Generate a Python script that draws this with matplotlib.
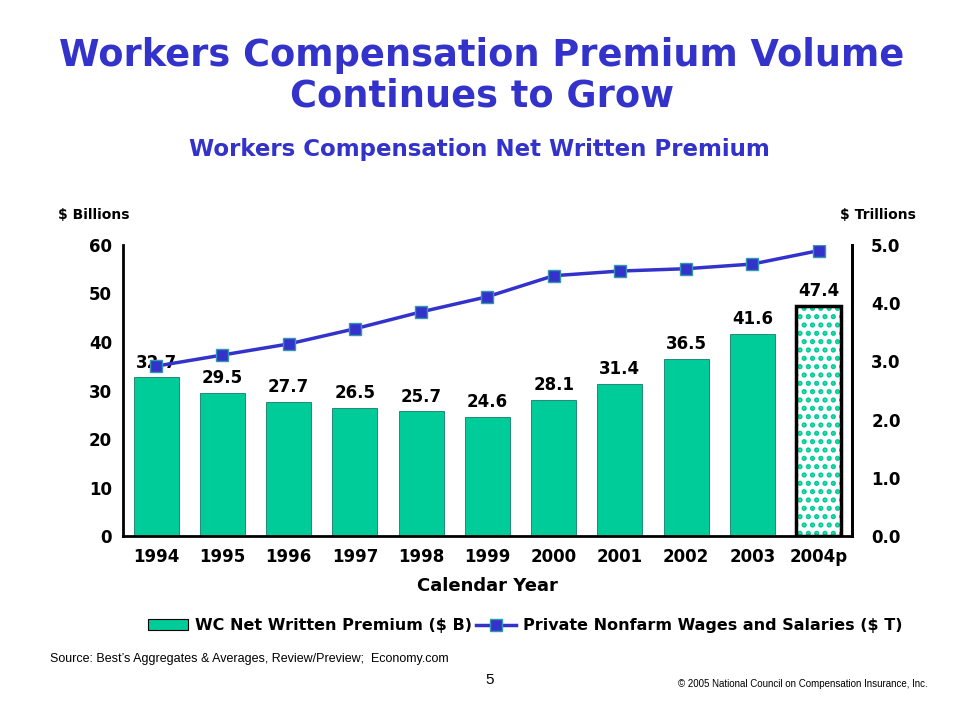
import numpy as np
import matplotlib.pyplot as plt
import matplotlib as mpl
from matplotlib.patches import Patch
from matplotlib.lines import Line2D

mpl.rcParams['font.family'] = 'DejaVu Sans'
mpl.rcParams['hatch.linewidth'] = 2.5

years = ['1994', '1995', '1996', '1997', '1998', '1999', '2000', '2001', '2002', '2003', '2004p']
premium = [32.7, 29.5, 27.7, 26.5, 25.7, 24.6, 28.1, 31.4, 36.5, 41.6, 47.4]
wages = [2.92, 3.11, 3.30, 3.56, 3.85, 4.11, 4.47, 4.55, 4.59, 4.67, 4.90]

green = '#00CC99'
blue = '#3333CC'
title_blue = '#3333CC'

fig = plt.figure(figsize=(9.69, 7.2), dpi=100)
ax = fig.add_axes([0.127, 0.255, 0.752, 0.405])
x = np.arange(len(years))

ax.bar(x[:-1], premium[:-1], width=0.68, color=green, edgecolor='#006655', linewidth=0.5)
ax.bar(x[-1], premium[-1], width=0.68, color='white', edgecolor=green, hatch='..', linewidth=0)
ax.bar(x[-1], premium[-1], width=0.68, color='none', edgecolor='black', linewidth=2.5)
for xi, v in zip(x, premium):
    ax.text(xi, v + 1.2, f'{v:.1f}', ha='center', va='bottom', fontsize=12, fontweight='bold')

ax.set_xlim(-0.5, len(years) - 0.5)
ax.set_ylim(0, 60)
ax.set_yticks(range(0, 61, 10))
ax.set_xticks(x)
ax.set_xticklabels(years)
ax.tick_params(axis='both', labelsize=12, length=0, pad=8)
for lab in ax.get_xticklabels() + ax.get_yticklabels():
    lab.set_fontweight('bold')
ax.spines['top'].set_visible(False)
for s in ['left', 'right', 'bottom']:
    ax.spines[s].set_linewidth(2)
ax.set_xlabel('Calendar Year', fontsize=13, fontweight='bold', labelpad=8)

ax2 = ax.twinx()
ax2.plot(x, wages, color=blue, linewidth=2.5, marker='s', markersize=9,
         markerfacecolor=blue, markeredgecolor='#3399AA', markeredgewidth=1)
ax2.set_ylim(0, 5)
ax2.set_yticks(np.arange(0, 5.1, 1))
ax2.set_yticklabels([f'{v:.1f}' for v in np.arange(0, 5.1, 1)])
ax2.tick_params(axis='y', labelsize=12, length=0, pad=14)
for lab in ax2.get_yticklabels():
    lab.set_fontweight('bold')
for s in ax2.spines.values():
    s.set_visible(False)
ax2.spines['right'].set_visible(True)
ax2.spines['right'].set_linewidth(2)

fig.text(0.497, 0.895, 'Workers Compensation Premium Volume\nContinues to Grow', ha='center', va='center',
         fontsize=26.5, fontweight='bold', color=title_blue, linespacing=1.1)
fig.text(0.495, 0.792, 'Workers Compensation Net Written Premium', ha='center', va='center',
         fontsize=16.5, fontweight='bold', color=title_blue)
fig.text(0.06, 0.701, '$ Billions', fontsize=10, fontweight='bold', va='center')
fig.text(0.945, 0.701, '$ Trillions', fontsize=10, fontweight='bold', va='center', ha='right')

handles = [Patch(facecolor=green, edgecolor='black', linewidth=0.8),
           Line2D([], [], color=blue, linewidth=2.5, marker='s', markersize=8,
                  markerfacecolor=blue, markeredgecolor='#3399AA')]
fig.legend(handles, ['WC Net Written Premium ($ B)', 'Private Nonfarm Wages and Salaries ($ T)'],
           loc='center', bbox_to_anchor=(0.542, 0.131), ncol=2, frameon=False,
           prop={'weight': 'bold', 'size': 11.5}, handlelength=2.5, columnspacing=0.3, handletextpad=0.4)

fig.text(0.052, 0.085, "Source: Best\u2019s Aggregates & Averages, Review/Preview;  Economy.com",
         fontsize=9, va='center', family='Liberation Sans')
fig.text(0.505, 0.055, '5', fontsize=11, ha='center', va='center', family='Liberation Sans')
fig.text(0.957, 0.05, '\u00a9 2005 National Council on Compensation Insurance, Inc.', fontsize=7,
         ha='right', va='center', family='Liberation Sans')

fig.savefig('out.png', dpi=100, facecolor='white')
